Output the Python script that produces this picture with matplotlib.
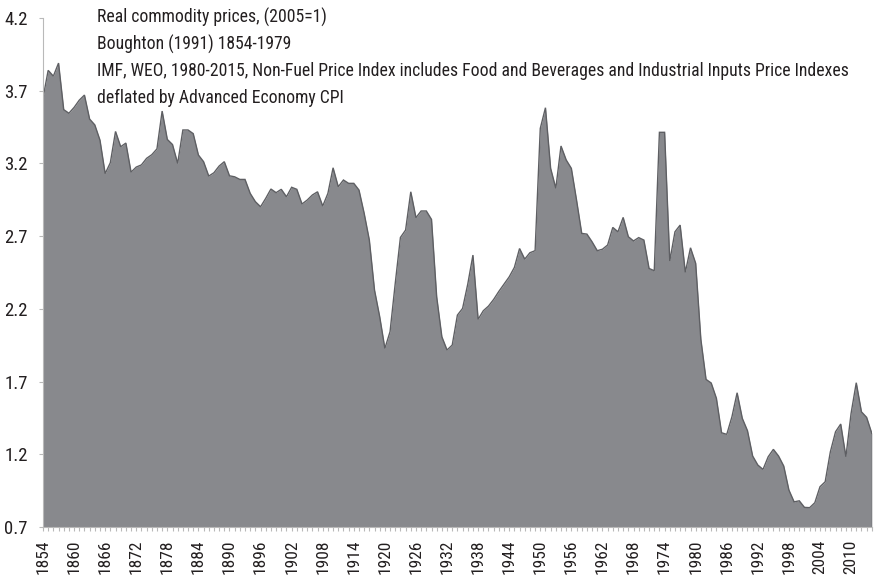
import matplotlib
matplotlib.use('Agg')
import matplotlib.pyplot as plt
from matplotlib import font_manager as fm
import numpy as np

# ---------------- data ----------------
years = list(range(1854, 2015))
values = [
    3.65, 3.84, 3.80, 3.89, 3.57, 3.545, 3.585, 3.635, 3.67, 3.505,   # 1854-1863
    3.465, 3.36, 3.13, 3.205, 3.42, 3.315, 3.34, 3.14, 3.175, 3.19,   # 1864-1873
    3.235, 3.26, 3.30, 3.56, 3.365, 3.33, 3.20, 3.43, 3.43, 3.405,    # 1874-1883
    3.258, 3.212, 3.113, 3.136, 3.182, 3.212, 3.115, 3.108, 3.09, 3.09,  # 1884-1893
    2.994, 2.937, 2.902, 2.96, 3.024, 2.999, 3.022, 2.971, 3.036, 3.022,  # 1894-1903
    2.921, 2.948, 2.983, 3.005, 2.907, 2.994, 3.17, 3.04, 3.086, 3.063,   # 1904-1913
    3.063, 3.017, 2.857, 2.673, 2.329, 2.146, 1.928, 2.043, 2.375, 2.691, # 1914-1923
    2.742, 3.005, 2.827, 2.873, 2.873, 2.815, 2.283, 2.008, 1.917, 1.951, # 1924-1933
    2.157, 2.203, 2.37, 2.57, 2.128, 2.187, 2.219, 2.265, 2.32, 2.37,     # 1934-1943
    2.42, 2.485, 2.615, 2.542, 2.586, 2.60, 3.441, 3.583, 3.166, 3.029,   # 1944-1953
    3.32, 3.224, 3.166, 2.948, 2.719, 2.714, 2.661, 2.60, 2.61, 2.639,    # 1954-1963
    2.76, 2.73, 2.829, 2.696, 2.667, 2.69, 2.673, 2.478, 2.462, 3.414,    # 1964-1973
    3.414, 2.529, 2.73, 2.776, 2.451, 2.62, 2.513, 1.99, 1.715, 1.69,     # 1974-1983
    1.585, 1.348, 1.337, 1.458, 1.623, 1.447, 1.362, 1.188, 1.126, 1.096, # 1984-1993
    1.183, 1.234, 1.188, 1.119, 0.954, 0.873, 0.88, 0.835, 0.833, 0.867,  # 1994-2003
    0.977, 1.011, 1.217, 1.355, 1.408, 1.183, 1.481, 1.692, 1.492, 1.454, # 2004-2013
    1.344,                                                                # 2014
]
y_ticks = [0.7, 1.2, 1.7, 2.2, 2.7, 3.2, 3.7, 4.2]
x_label_years = list(range(1854, 2015, 6))
note_lines = [
    "Real commodity prices, (2005=1)",
    "Boughton (1991) 1854-1979",
    "IMF, WEO, 1980-2015, Non-Fuel Price Index includes Food and Beverages and Industrial Inputs Price Indexes",
    "deflated by Advanced Economy CPI",
]

# ---------------- fonts ----------------
available = {f.name for f in fm.fontManager.ttflist}
font_kw = {}
for cand in ["Liberation Sans Narrow", "Roboto Condensed", "Open Sans Condensed"]:
    if cand in available:
        font_kw = {"family": cand}
        break
if not font_kw:
    font_kw = {"family": "DejaVu Sans", "stretch": "condensed"}

TEXT_COLOR = "#231f20"
AREA_COLOR = "#88898d"
EDGE_COLOR = "#5e5f63"
AXIS_COLOR = "#b9b9b9"

W, H = 875, 576
fig = plt.figure(figsize=(W / 100, H / 100), dpi=100)
left_px, right_px, top_px, bottom_px = 43, 871.8, 18, 527
ax = fig.add_axes([left_px / W, 1 - bottom_px / H,
                   (right_px - left_px) / W, (bottom_px - top_px) / H])

base = y_ticks[0]
ax.fill_between(years, values, base, color=AREA_COLOR, lw=0, zorder=2)
ax.plot(years, values, color=EDGE_COLOR, lw=1.0, zorder=3, solid_joinstyle='miter')
ax.plot([years[-1], years[-1]], [values[-1], base], color=EDGE_COLOR, lw=1.0, zorder=3)

ax.set_xlim(years[0], years[-1])
ax.set_ylim(y_ticks[0], y_ticks[-1])

ax.set_yticks(y_ticks)
ax.set_yticklabels([f"{t:.1f}" for t in y_ticks])
ax.set_xticks(x_label_years)
ax.set_xticklabels([str(y) for y in x_label_years], rotation=90)
ax.set_xticks(years, minor=True)

def style(lab, size):
    lab.set_fontsize(size)
    lab.set_color(TEXT_COLOR)
    lab.set_fontfamily(font_kw["family"])
    if "stretch" in font_kw:
        lab.set_fontstretch(font_kw["stretch"])

for lab in ax.get_yticklabels():
    style(lab, 13.5)
for lab in ax.get_xticklabels():
    style(lab, 12.5)

for s in ["top", "right"]:
    ax.spines[s].set_visible(False)
for s in ["left", "bottom"]:
    ax.spines[s].set_color(AXIS_COLOR)
    ax.spines[s].set_linewidth(0.8)
    ax.spines[s].set_zorder(4)

ax.tick_params(axis="y", which="major", length=3, width=0.8, color=AXIS_COLOR, pad=8)
ax.tick_params(axis="x", which="major", length=3, width=0.8, color=AXIS_COLOR, pad=6)
ax.tick_params(axis="x", which="minor", length=3, width=0.8, color=AXIS_COLOR)

# ---------------- notes ----------------
line_centers = [17, 44, 71, 98]
texts = []
for txt, yc in zip(note_lines, line_centers):
    t = fig.text(97 / W, 1 - yc / H, txt, ha="left", va="center",
                 fontsize=13, color=TEXT_COLOR, **font_kw)
    texts.append(t)

# fit the widest line to the measured width (~748 px)
fig.canvas.draw()
r = fig.canvas.get_renderer()
wbb = texts[2].get_window_extent(renderer=r).width
scale = 748 / wbb
for t in texts:
    t.set_fontsize(13 * scale)

fig.savefig("out.png", dpi=100)
